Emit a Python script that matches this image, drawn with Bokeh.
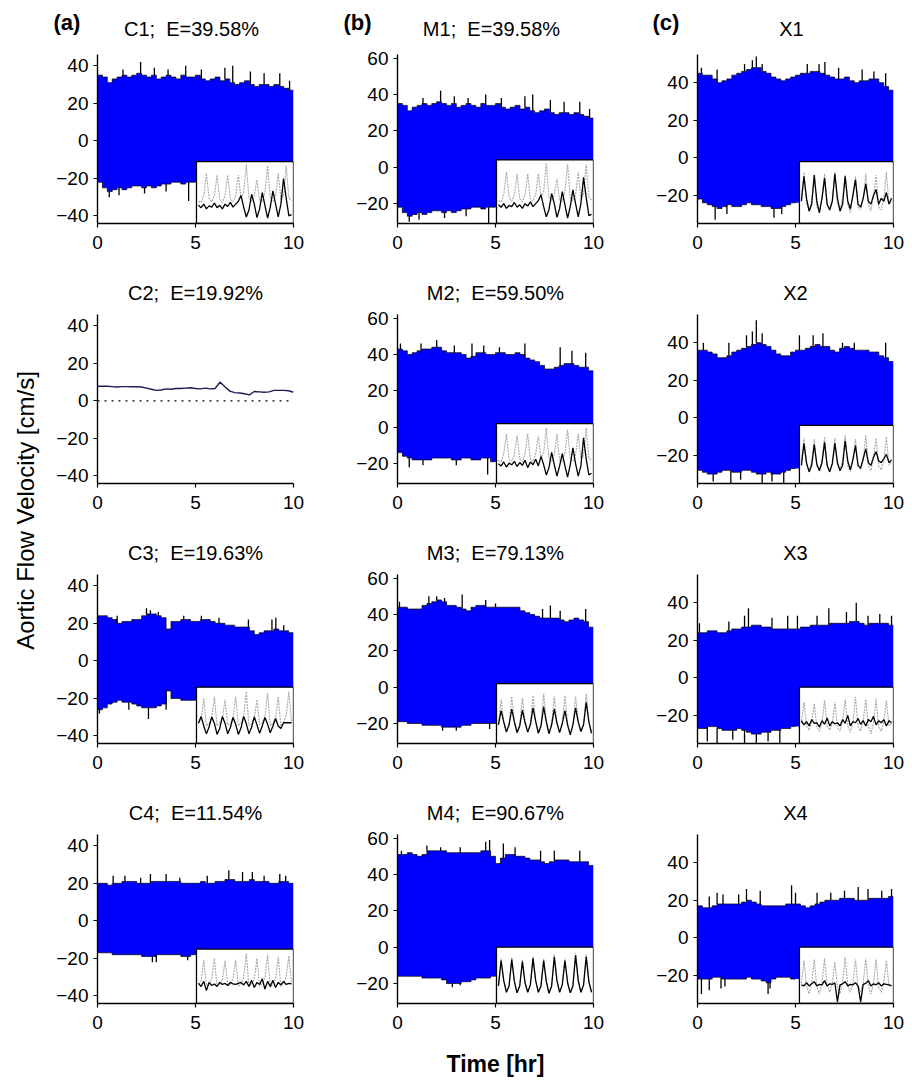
import numpy as np
from bokeh.plotting import figure
from bokeh.layouts import row, column
from bokeh.models import Range1d, FixedTicker, Label
from bokeh.embed import file_html
from bokeh.resources import INLINE

FONT = "Liberation Sans"

# ---------------- data ----------------
t_step = 0.25  # hours between envelope samples

# Signal 1 (C1 and M1 show the same recording)
up_1 = [35,34,31,33,34,35,34,35,36,35,34,35,33,34,35,34,33,35,34,34,35,33,32,33,34,32,33,31,30,31,32,30,29,30,30,29,30,29,28,27]
lo_1 = [-22,-25,-27,-26,-25,-26,-25,-24,-24,-25,-24,-25,-24,-23,-23,-22,-22,-23,-22,-22]
spk_up_x_1 = [1.3,2.2,2.9,3.6,4.5,5.3,6.5,6.9,7.8,8.5,9.3,9.8]
spk_up_y_1 = [38,42,39,38,40,38,39,40,37,36,36,32]
spk_lo_x_1 = [0.6,1.1,2.4,3.5,4.65]
spk_lo_y_1 = [-30,-29,-28,-27,-32]
ins_bk_1 = [0.28,0.24,0.30,0.22,0.27,0.25,0.32,0.24,0.28,0.22,0.30,0.26,0.33,0.25,0.30,0.35,0.45,0.25,0.08,0.20,0.47,0.30,0.07,0.22,0.50,0.28,0.06,0.25,0.53,0.30,0.08,0.30,0.74,0.40,0.10,0.12]
ins_gr_1 = [0.35,0.33,0.45,0.83,0.40,0.34,0.45,0.80,0.38,0.33,0.45,0.80,0.38,0.34,0.45,0.80,0.40,0.50,0.98,0.40,0.35,0.45,0.72,0.36,0.34,0.50,0.96,0.40,0.35,0.45,0.83,0.38,0.45,0.96,0.40,0.36]

# X1
up_x1 = [45,44,44,42,40,41,42,44,45,46,47,48,48,46,45,43,42,41,42,43,44,45,45,46,46,45,44,43,42,42,43,41,40,41,41,42,42,40,38,36]
lo_x1 = [-22,-24,-25,-26,-27,-26,-25,-26,-26,-25,-24,-25,-25,-26,-26,-27,-27,-26,-25,-24]
spk_up_x_x1 = [0.2,1.0,2.4,2.8,3.0,3.3,5.6,6.2,6.5,7.2,8.4,9.0,9.6]
spk_up_y_x1 = [48,47,50,52,54,50,50,50,51,48,47,46,45]
spk_lo_x_x1 = [0.9,1.5,3.9,4.3]
spk_lo_y_x1 = [-33,-30,-32,-30]
ins_bk_x1 = [0.35,0.78,0.40,0.18,0.30,0.80,0.35,0.15,0.40,0.75,0.30,0.20,0.35,0.82,0.40,0.18,0.30,0.78,0.35,0.22,0.45,0.72,0.30,0.25,0.40,0.65,0.35,0.30,0.45,0.55,0.30,0.40,0.35,0.50,0.30,0.40]
ins_gr_x1 = [0.40,0.85,0.30,0.20,0.35,0.80,0.25,0.20,0.40,0.82,0.28,0.22,0.35,0.85,0.30,0.20,0.40,0.80,0.30,0.15,0.45,0.78,0.25,0.20,0.40,0.82,0.30,0.18,0.45,0.80,0.25,0.20,0.40,0.85,0.30,0.35]

# C2 (single flat trace)
c2_vals = [7.8,7.8,7.8,7.6,7.4,7.6,7.6,7.5,7.5,7.4,6.8,6.2,5.6,5.8,6.4,6.2,6.6,6.6,6.8,7.0,6.6,6.4,6.8,6.4,6.6,10.0,7.5,5.2,4.4,4.2,3.8,3.2,5.0,4.8,4.6,4.8,5.6,5.6,5.6,5.4,4.6]

# M2
up_m2 = [43,42,40,41,42,43,43,44,44,42,41,41,41,40,38,39,41,41,40,40,41,41,40,40,41,40,38,37,36,34,32,32,33,34,35,35,34,33,33,31]
lo_m2 = [-14,-16,-17,-18,-18,-18,-18,-17,-17,-17,-17,-18,-18,-17,-17,-18,-18,-17,-17,-19]
spk_up_x_m2 = [0.15,1.2,2.0,2.9,3.8,4.4,5.2,6.5,8.3,8.9,9.6]
spk_up_y_m2 = [46,46,48,45,46,45,44,46,44,42,41]
spk_lo_x_m2 = [0.6,1.3,3.0,4.6]
spk_lo_y_m2 = [-22,-21,-21,-26]
ins_bk_m2 = [0.32,0.28,0.35,0.26,0.33,0.30,0.36,0.27,0.34,0.29,0.38,0.25,0.35,0.30,0.40,0.28,0.45,0.30,0.12,0.25,0.52,0.30,0.10,0.28,0.50,0.28,0.08,0.30,0.60,0.32,0.10,0.28,0.78,0.40,0.12,0.15]
ins_gr_m2 = [0.38,0.35,0.50,0.85,0.40,0.36,0.48,0.82,0.40,0.35,0.50,0.85,0.40,0.36,0.50,0.80,0.42,0.52,0.95,0.40,0.36,0.48,0.85,0.38,0.36,0.52,0.92,0.40,0.36,0.48,0.85,0.40,0.46,0.95,0.42,0.38]

# X2
up_x2 = [36,36,35,34,32,32,33,35,36,37,38,39,40,39,38,36,34,33,33,35,36,36,37,38,39,38,38,36,35,37,38,37,36,36,36,35,35,33,32,30]
lo_x2 = [-28,-29,-30,-30,-29,-28,-28,-29,-29,-28,-28,-29,-30,-30,-29,-30,-30,-29,-28,-27]
spk_up_x_x2 = [0.3,1.6,2.5,2.8,3.0,3.3,5.2,5.9,6.4,7.4,8.0,9.6]
spk_up_y_x2 = [40,40,44,46,52,45,44,44,45,40,40,40]
spk_lo_x_x2 = [0.8,1.7,2.2,3.3,3.8,4.4]
spk_lo_y_x2 = [-34,-35,-33,-35,-34,-35]
ins_bk_x2 = [0.30,0.70,0.35,0.18,0.30,0.68,0.32,0.20,0.35,0.72,0.30,0.18,0.33,0.70,0.35,0.20,0.30,0.75,0.38,0.22,0.40,0.66,0.30,0.25,0.42,0.60,0.35,0.30,0.45,0.55,0.38,0.35,0.42,0.50,0.35,0.40]
ins_gr_x2 = [0.35,0.80,0.30,0.20,0.38,0.78,0.28,0.22,0.40,0.82,0.30,0.20,0.35,0.80,0.30,0.22,0.40,0.85,0.30,0.18,0.42,0.78,0.28,0.22,0.40,0.85,0.30,0.20,0.45,0.80,0.28,0.22,0.40,0.82,0.30,0.38]

# C3
up_c3 = [24,24,23,22,20,21,21,22,22,24,25,25,24,23,17,21,21,22,22,21,21,22,22,21,20,20,19,19,18,18,18,16,14,15,16,16,17,16,16,15]
lo_c3 = [-26,-25,-23,-22,-21,-22,-22,-23,-24,-25,-25,-25,-24,-23,-16,-20,-20,-21,-21,-21]
spk_up_x_c3 = [1.0,2.5,2.7,3.1,4.4,5.3,6.2,7.7,8.9,9.1,9.5]
spk_up_y_c3 = [24,28,27,26,24,24,23,22,22,23,19]
spk_lo_x_c3 = [0.1,1.6,2.6,3.5]
spk_lo_y_c3 = [-28,-26,-31,-26]
ins_bk_c3 = [0.35,0.48,0.30,0.15,0.28,0.47,0.35,0.14,0.25,0.48,0.35,0.15,0.27,0.46,0.33,0.14,0.26,0.48,0.34,0.15,0.28,0.47,0.32,0.16,0.30,0.46,0.33,0.17,0.30,0.44,0.30,0.25,0.36,0.36,0.36,0.36]
ins_gr_c3 = [0.36,0.40,0.82,0.30,0.35,0.45,0.85,0.30,0.36,0.42,0.80,0.32,0.35,0.46,0.85,0.30,0.36,0.48,0.95,0.30,0.35,0.44,0.80,0.32,0.36,0.48,0.92,0.30,0.35,0.45,0.85,0.30,0.36,0.50,0.95,0.36]

# M3
up_m3 = [44,44,43,43,43,45,46,47,48,47,45,45,44,43,42,44,45,45,44,44,44,44,44,44,44,42,41,40,39,38,38,38,38,37,36,37,38,37,36,33]
lo_m3 = [-19,-19,-20,-20,-20,-21,-21,-21,-21,-22,-22,-22,-22,-21,-21,-20,-20,-20,-20,-20]
spk_up_x_m3 = [0.1,1.6,2.0,2.4,3.3,4.5,5.0,7.4,7.8,8.3,9.6]
spk_up_y_m3 = [47,50,50,49,51,48,46,43,45,42,43]
spk_lo_x_m3 = [2.3,3.0,4.7]
spk_lo_y_m3 = [-24,-24,-23]
ins_bk_m3 = [0.30,0.55,0.35,0.17,0.30,0.58,0.35,0.16,0.28,0.56,0.34,0.17,0.30,0.60,0.36,0.15,0.28,0.62,0.35,0.14,0.30,0.58,0.33,0.16,0.32,0.55,0.30,0.12,0.30,0.60,0.35,0.18,0.30,0.70,0.35,0.15]
ins_gr_m3 = [0.32,0.75,0.35,0.18,0.32,0.80,0.36,0.18,0.30,0.78,0.35,0.18,0.32,0.82,0.36,0.16,0.30,0.85,0.36,0.15,0.32,0.80,0.34,0.16,0.34,0.82,0.32,0.14,0.32,0.80,0.36,0.18,0.32,0.85,0.36,0.16]

# X3
up_x3 = [24,24,25,25,24,24,25,26,26,27,27,28,28,27,27,26,26,26,26,26,26,27,27,28,28,28,28,29,29,29,29,30,30,29,28,29,29,29,29,28]
lo_x3 = [-27,-27,-26,-26,-27,-28,-28,-28,-27,-28,-29,-30,-30,-29,-29,-28,-28,-27,-27,-26]
spk_up_x_x3 = [0.1,1.6,2.4,2.6,3.8,4.6,5.1,6.1,6.7,7.6,8.1,8.7,9.3,9.9]
spk_up_y_x3 = [29,30,33,37,32,33,33,33,37,35,40,33,34,33]
spk_lo_x_x3 = [0.5,1.0,1.8,2.4,3.0,3.6,4.2]
spk_lo_y_x3 = [-34,-35,-33,-35,-35,-34,-35]
ins_bk_x3 = [0.40,0.32,0.38,0.30,0.42,0.35,0.36,0.28,0.40,0.33,0.45,0.30,0.38,0.34,0.36,0.30,0.42,0.35,0.50,0.30,0.38,0.36,0.44,0.33,0.40,0.30,0.42,0.38,0.48,0.32,0.40,0.36,0.42,0.30,0.40,0.36]
ins_gr_x3 = [0.35,0.75,0.30,0.22,0.38,0.72,0.28,0.20,0.36,0.78,0.30,0.22,0.35,0.75,0.28,0.20,0.38,0.80,0.30,0.18,0.36,0.85,0.28,0.20,0.38,0.80,0.30,0.15,0.36,0.82,0.28,0.20,0.38,0.78,0.30,0.35]

# C4
up_c4 = [20,20,19,20,20,21,21,21,20,20,20,21,21,21,21,21,21,20,20,20,20,21,20,20,21,21,22,22,21,21,21,22,21,21,21,20,20,21,21,20]
lo_c4 = [-17,-17,-17,-18,-18,-18,-18,-18,-18,-19,-19,-19,-18,-18,-18,-18,-18,-19,-19,-18]
spk_up_x_c4 = [0.8,1.4,2.2,2.7,3.5,4.2,5.6,6.7,7.4,7.9,8.5,9.3,9.6]
spk_up_y_c4 = [24,24,23,25,25,23,24,27,26,26,24,25,24]
spk_lo_x_c4 = [2.8,3.0,4.6]
spk_lo_y_c4 = [-22,-22,-21]
ins_bk_c4 = [0.36,0.30,0.40,0.22,0.38,0.32,0.35,0.30,0.38,0.34,0.36,0.32,0.38,0.35,0.34,0.36,0.38,0.33,0.40,0.30,0.42,0.28,0.38,0.34,0.45,0.25,0.40,0.30,0.42,0.28,0.38,0.33,0.40,0.34,0.36,0.35]
ins_gr_c4 = [0.35,0.40,0.82,0.32,0.35,0.45,0.85,0.30,0.36,0.42,0.80,0.32,0.34,0.46,0.82,0.30,0.36,0.48,0.95,0.30,0.35,0.44,0.85,0.30,0.36,0.48,0.92,0.28,0.35,0.45,0.88,0.30,0.36,0.50,0.90,0.36]

# M4
up_m4 = [51,51,52,51,50,51,53,53,53,53,52,52,52,52,52,52,52,53,53,50,46,49,51,51,50,50,49,48,48,47,46,47,48,48,48,47,47,47,47,45]
lo_m4 = [-16,-16,-16,-16,-16,-17,-17,-17,-17,-18,-20,-20,-20,-19,-19,-18,-17,-17,-17,-16]
spk_up_x_m4 = [0.2,1.5,2.2,3.2,4.5,4.7,5.4,6.0,7.3,8.0,9.3]
spk_up_y_m4 = [53,56,55,55,58,59,57,55,53,53,53]
spk_lo_x_m4 = [2.8,3.2]
spk_lo_y_m4 = [-22,-21]
ins_bk_m4 = [0.30,0.78,0.40,0.18,0.30,0.80,0.38,0.17,0.30,0.76,0.36,0.18,0.32,0.82,0.40,0.18,0.30,0.78,0.38,0.16,0.30,0.85,0.40,0.18,0.32,0.78,0.36,0.17,0.30,0.88,0.40,0.18,0.32,0.85,0.38,0.18]
ins_gr_m4 = [0.30,0.82,0.40,0.18,0.30,0.84,0.38,0.17,0.30,0.80,0.36,0.18,0.32,0.86,0.40,0.18,0.30,0.82,0.38,0.16,0.30,0.90,0.40,0.18,0.32,0.82,0.36,0.17,0.30,0.92,0.40,0.18,0.32,0.90,0.38,0.18]

# X4
up_x4 = [17,16,16,17,18,18,18,18,18,19,20,19,18,17,17,17,17,17,18,18,18,17,16,17,18,19,20,20,20,21,21,21,20,20,20,21,21,21,21,22]
lo_x4 = [-22,-22,-22,-21,-21,-22,-22,-22,-22,-22,-21,-22,-22,-23,-24,-22,-21,-21,-21,-22]
spk_up_x_x4 = [0.6,1.0,1.3,2.1,2.5,3.2,4.8,5.0,6.1,6.8,7.5,8.2,8.7,9.4,9.9]
spk_up_y_x4 = [22,24,23,23,26,25,28,24,24,24,25,27,26,25,26]
spk_lo_x_x4 = [0.2,0.6,1.2,1.4,3.6,3.7]
spk_lo_y_x4 = [-30,-28,-27,-26,-30,-27]
ins_bk_x4 = [0.32,0.30,0.36,0.30,0.34,0.38,0.30,0.33,0.32,0.40,0.30,0.34,0.33,0.36,0.00,0.32,0.34,0.38,0.30,0.33,0.32,0.36,0.30,0.00,0.33,0.35,0.40,0.30,0.34,0.32,0.36,0.30,0.34,0.33,0.32,0.30]
ins_gr_x4 = [0.35,0.78,0.30,0.15,0.35,0.80,0.28,0.15,0.36,0.82,0.30,0.18,0.35,0.75,0.28,0.15,0.36,0.85,0.30,0.18,0.35,0.80,0.28,0.20,0.36,0.82,0.30,0.15,0.35,0.80,0.28,0.18,0.36,0.78,0.30,0.32]

# panel titles
NB = "\u00a0"
titles = [["C1;" + NB + " E=39.58%", "M1;" + NB + " E=39.58%", "X1"],
          ["C2;" + NB + " E=19.92%", "M2;" + NB + " E=59.50%", "X2"],
          ["C3;" + NB + " E=19.63%", "M3;" + NB + " E=79.13%", "X3"],
          ["C4;" + NB + " E=11.54%", "M4;" + NB + " E=90.67%", "X4"]]
col_letters = ["(a)", "(b)", "(c)"]

# axis ranges / ticks per column
y_ranges = [(-44, 46), (-31, 62), (-35, 55)]
y_ticks = [[-40, -20, 0, 20, 40], [-20, 0, 20, 40, 60], [-20, 0, 20, 40]]
x_ticks = [0, 5, 10]

# inset boxes (left edge in hours, top in cm/s)
inset_left = [5.05, 5.05, 5.2]
inset_top = [[-11, 4, -2], [None, 2, -4], [-14, 2, -5], [-15, 0, -5]]

signals = [
    [(up_1, lo_1, spk_up_x_1, spk_up_y_1, spk_lo_x_1, spk_lo_y_1, ins_bk_1, ins_gr_1),
     (up_1, lo_1, spk_up_x_1, spk_up_y_1, spk_lo_x_1, spk_lo_y_1, ins_bk_1, ins_gr_1),
     (up_x1, lo_x1, spk_up_x_x1, spk_up_y_x1, spk_lo_x_x1, spk_lo_y_x1, ins_bk_x1, ins_gr_x1)],
    [None,
     (up_m2, lo_m2, spk_up_x_m2, spk_up_y_m2, spk_lo_x_m2, spk_lo_y_m2, ins_bk_m2, ins_gr_m2),
     (up_x2, lo_x2, spk_up_x_x2, spk_up_y_x2, spk_lo_x_x2, spk_lo_y_x2, ins_bk_x2, ins_gr_x2)],
    [(up_c3, lo_c3, spk_up_x_c3, spk_up_y_c3, spk_lo_x_c3, spk_lo_y_c3, ins_bk_c3, ins_gr_c3),
     (up_m3, lo_m3, spk_up_x_m3, spk_up_y_m3, spk_lo_x_m3, spk_lo_y_m3, ins_bk_m3, ins_gr_m3),
     (up_x3, lo_x3, spk_up_x_x3, spk_up_y_x3, spk_lo_x_x3, spk_lo_y_x3, ins_bk_x3, ins_gr_x3)],
    [(up_c4, lo_c4, spk_up_x_c4, spk_up_y_c4, spk_lo_x_c4, spk_lo_y_c4, ins_bk_c4, ins_gr_c4),
     (up_m4, lo_m4, spk_up_x_m4, spk_up_y_m4, spk_lo_x_m4, spk_lo_y_m4, ins_bk_m4, ins_gr_m4),
     (up_x4, lo_x4, spk_up_x_x4, spk_up_y_x4, spk_lo_x_x4, spk_lo_y_x4, ins_bk_x4, ins_gr_x4)],
]

# ---------------- layout constants ----------------
YLAB_W = 45
STRIP_H = 40
FRAME_W = 196
FRAME_H = 169
BORDER_L = 52
BORDER_TOP = 53
COL_W = [300, 300, 263]
BLUE = "#0000ff"
TICK_FS = "19px"
TITLE_FS = "20px"
TXT = "black"


def style_axes(p, col):
    p.outline_line_color = None
    p.grid.visible = False
    p.xaxis.ticker = FixedTicker(ticks=x_ticks)
    p.yaxis.ticker = FixedTicker(ticks=y_ticks[col])
    for ax in (p.xaxis[0], p.yaxis[0]):
        ax.axis_line_width = 1.4
        ax.axis_line_color = "black"
        ax.major_tick_line_width = 1.2
        ax.major_tick_in = 0
        ax.major_tick_out = 4
        ax.minor_tick_line_color = None
        ax.major_label_text_font = FONT
        ax.major_label_text_font_size = TICK_FS
        ax.major_label_text_color = TXT
    p.xaxis.major_label_standoff = 8
    p.yaxis.major_label_standoff = 5
    if p.title is not None:
        p.title.align = "center"
        p.title.text_font = FONT
        p.title.text_font_size = TITLE_FS
        p.title.text_font_style = "normal"
        p.title.text_color = TXT
        p.title.standoff = 21


def make_panel(r, c):
    first_row = (r == 0)
    last_row = (r == 3)
    right_border = COL_W[c] - BORDER_L - FRAME_W
    top = BORDER_TOP - (STRIP_H - 1) if first_row else BORDER_TOP
    bottom = 78 if last_row else 38
    h = top + FRAME_H + bottom
    y0, y1 = y_ranges[c]
    kw = {} if first_row else {"title": titles[r][c]}
    p = figure(width=COL_W[c], height=h, x_range=Range1d(0, 10), y_range=Range1d(y0, y1),
               output_backend="svg", toolbar_location=None,
               min_border_left=BORDER_L, min_border_right=right_border,
               min_border_top=top, min_border_bottom=bottom, **kw)
    style_axes(p, c)

    sig = signals[r][c]
    if sig is None:
        # C2: single slow trace plus dotted zero line
        tx = np.arange(len(c2_vals)) * t_step
        p.line([0, 10], [0, 0], line_color="black", line_dash="2 5", line_width=1.2)
        p.line(tx, c2_vals, line_color="#1c1c55", line_width=1.4)
    else:
        up, lo, sux, suy, slx, sly, bk, gr = sig
        il = inset_left[c]
        it = inset_top[r][c]
        n = len(up)
        xs_env = np.arange(n) * t_step
        xe = list(xs_env) + [10.0]
        upper = list(up) + [up[-1]]
        lower_full = [lo[min(i, len(lo) - 1)] if xs_env[i] < il - 1e-9 else y0 for i in range(n)]
        lower = lower_full + [lower_full[-1]]
        p.varea_step(x=xe, y1=lower, y2=upper, step_mode="after", fill_color=BLUE)
        p.step(xe, upper, mode="after", line_color="black", line_width=0.7)
        xl = list(np.arange(len(lo) + 1) * t_step)
        p.step(xl, list(lo) + [lo[-1]], mode="after", line_color="black", line_width=0.7)
        # spikes at the envelope
        base_up = [up[min(int(v / t_step), n - 1)] for v in sux]
        p.segment(x0=sux, y0=base_up, x1=sux, y1=suy, line_color="black", line_width=1.3)
        base_lo = [lo[min(int(v / t_step), len(lo) - 1)] for v in slx]
        p.segment(x0=slx, y0=base_lo, x1=slx, y1=sly, line_color="black", line_width=1.3)
        # inset
        p.quad(left=[il], right=[10], bottom=[y0], top=[it], fill_color="white",
               line_color="black", line_width=1.3)
        span = it - y0
        gy = [y0 + 0.03 * span + v * 0.94 * span for v in gr]
        by = [y0 + 0.03 * span + v * 0.94 * span for v in bk]
        p.line(np.linspace(il + 0.1, 9.9, len(gr)), gy, line_color="#a8a8a8",
               line_dash="2 1", line_width=1.1)
        p.line(np.linspace(il + 0.1, 9.9, len(bk)), by, line_color="black", line_width=1.3)

    if last_row and c == 1:
        p.xaxis.axis_label = "Time [hr]"
        p.xaxis.axis_label_text_font = FONT
        p.xaxis.axis_label_text_font_size = "23px"
        p.xaxis.axis_label_text_font_style = "bold"
        p.xaxis.axis_label_text_color = TXT
        p.xaxis.axis_label_standoff = 19
    return p


# strip above the first row: column letters and first-row panel titles
strip_w = sum(COL_W)
strip = figure(width=strip_w, height=STRIP_H, x_range=Range1d(0, strip_w), y_range=Range1d(0, STRIP_H),
               output_backend="svg", toolbar_location=None,
               min_border_left=0, min_border_right=0, min_border_top=0, min_border_bottom=0)
strip.axis.visible = False
strip.grid.visible = False
strip.outline_line_color = None
letter_dx = [-44, -54, -45]
col_start = [0, COL_W[0], COL_W[0] + COL_W[1]]
for c in range(3):
    frame_left = col_start[c] + BORDER_L
    strip.add_layout(Label(x=frame_left + letter_dx[c], y=STRIP_H - 22, text=col_letters[c],
                           text_font=FONT, text_font_size="22px", text_font_style="bold",
                           text_color=TXT, text_align="left", text_baseline="middle"))
    strip.add_layout(Label(x=frame_left + FRAME_W / 2 - 4, y=STRIP_H - 28, text=titles[0][c],
                           text_font=FONT, text_font_size=TITLE_FS, text_color=TXT,
                           text_align="center", text_baseline="middle"))

rows = [strip]
for r in range(4):
    rows.append(row(*[make_panel(r, c) for c in range(3)]))

# left strip with the shared y-axis label
ylab = figure(width=YLAB_W, height=1080, x_range=Range1d(0, 1), y_range=Range1d(0, 1),
              output_backend="svg", toolbar_location=None,
              min_border_left=0, min_border_right=0, min_border_top=0, min_border_bottom=0)
ylab.axis.visible = False
ylab.grid.visible = False
ylab.outline_line_color = None
ylab.add_layout(Label(x=0.55, y=(1080 - 510) / 1080, text="Aortic Flow Velocity [cm/s]",
                      angle=np.pi / 2, text_font=FONT, text_font_size="24px", text_color=TXT,
                      text_align="center", text_baseline="middle"))

layout = row(ylab, column(*rows))
open("out.html", "w").write(file_html(layout, INLINE))
